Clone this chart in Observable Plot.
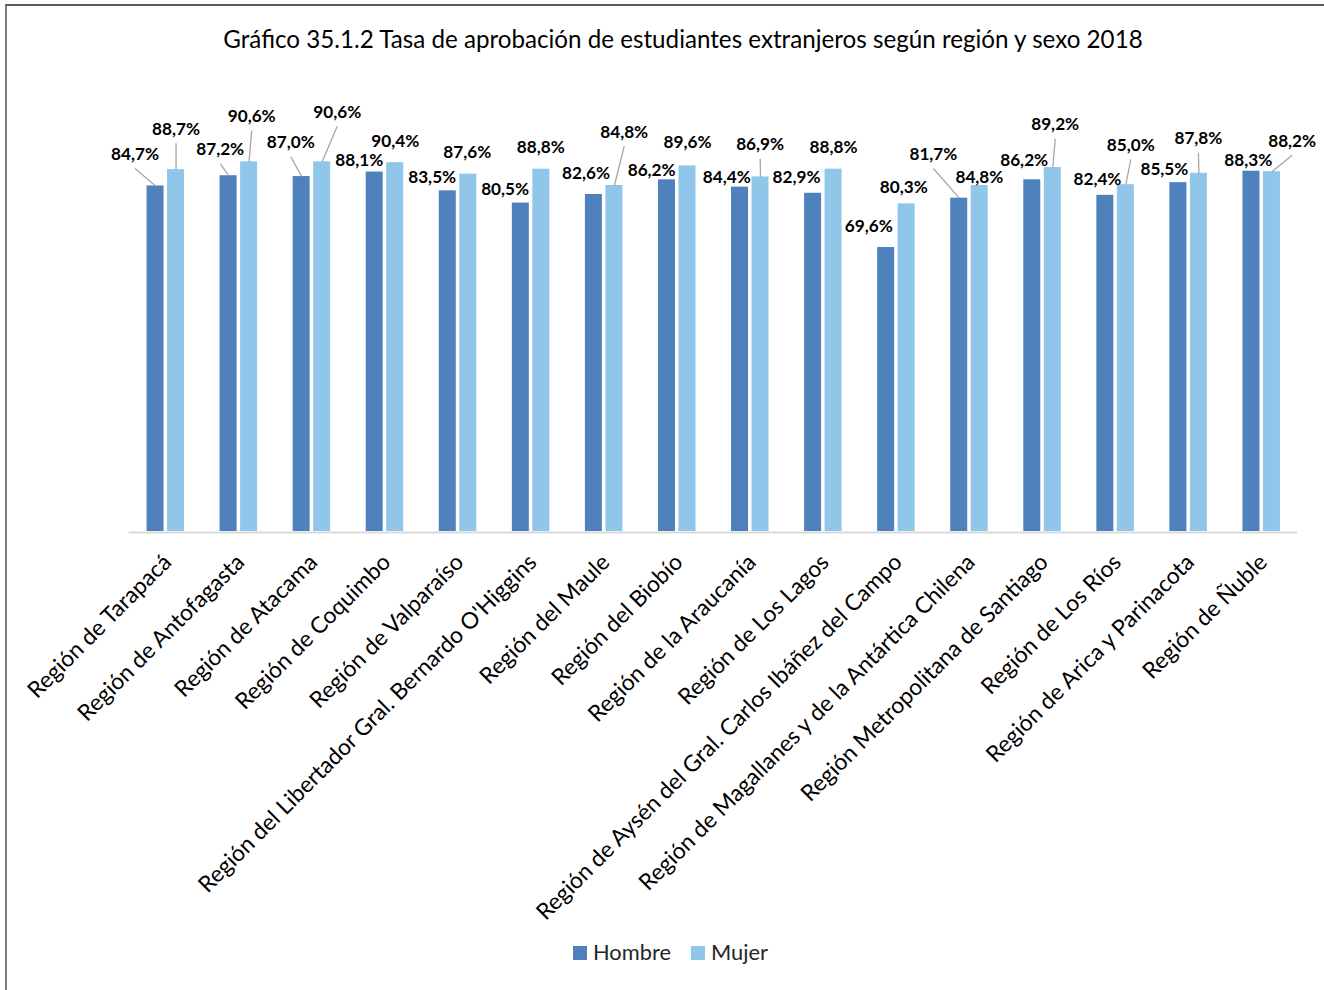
<!DOCTYPE html>
<html>
<head>
<meta charset="utf-8">
<script src="https://cdn.jsdelivr.net/npm/d3@7"></script>
<script src="https://cdn.jsdelivr.net/npm/@observablehq/plot@0.6"></script>
<style>
  html, body { margin: 0; padding: 0; background: #fff; }
  #root { position: relative; width: 1324px; height: 990px; overflow: hidden; font-family: Lato, sans-serif; }
  #frame { position: absolute; left: 5px; top: 4px; width: 1400px; height: 1000px; border-top: 2px solid #5a5a5a; border-left: 2px solid #7a7a7a; }
  #title { position: absolute; left: 0; width: 1366px; text-align: center; line-height: 1; color: #000; white-space: nowrap; }
  #chart { position: absolute; left: 0; top: 0; }
  .leg { position: absolute; line-height: 1; color: #262626; white-space: nowrap; }
  .sw { position: absolute; width: 14px; height: 14px; }
</style>
</head>
<body>
<div id="root">
  <div id="frame"></div>
  <div id="title"></div>
  <div id="chart"></div>
  <div id="legend"></div>
</div>
<script>
// ---- data ----
const titleText = "Gráfico 35.1.2 Tasa de aprobación de estudiantes extranjeros según región y sexo 2018";
const regions = [
  "Región de Tarapacá",
  "Región de Antofagasta",
  "Región de Atacama",
  "Región de Coquimbo",
  "Región de Valparaíso",
  "Región del Libertador Gral. Bernardo O'Higgins",
  "Región del Maule",
  "Región del Biobío",
  "Región de la Araucanía",
  "Región de Los Lagos",
  "Región de Aysén del Gral. Carlos Ibáñez del Campo",
  "Región de Magallanes y de la Antártica Chilena",
  "Región Metropolitana de Santiago",
  "Región de Los Ríos",
  "Región de Arica y Parinacota",
  "Región de Ñuble"
];
const series = ["Hombre", "Mujer"];
const hombre = [84.7, 87.2, 87.0, 88.1, 83.5, 80.5, 82.6, 86.2, 84.4, 82.9, 69.6, 81.7, 86.2, 82.4, 85.5, 88.3];
const mujer  = [88.7, 90.6, 90.6, 90.4, 87.6, 88.8, 84.8, 89.6, 86.9, 88.8, 80.3, 84.8, 89.2, 85.0, 87.8, 88.2];

// ---- layout (pixel offsets of data labels from bar tops, leader-line flags) ----
const labelShiftH = [[-20.5,-31.4],[-8.4,-26.2],[-10.8,-33.7],[-15.4,-11.6],[-15.6,-13.6],[-15.7,-13.3],[-7.9,-21.3],[-15.3,-9.3],
                     [-13.3,-9.3],[-16.6,-15.5],[-17.4,-21],[-25.8,-43.7],[-8.1,-19.3],[-7.9,-15.5],[-14,-12.9],[-3.2,-10.7]];
const leaderH = [1,1,1,0,0,0,0,0,0,0,0,1,0,0,0,0];
const labelShiftM = [[0,-40.3],[2.6,-45.4],[15.1,-49.7],[0,-21.5],[-1,-21.9],[-0.6,-21.4],[9.8,-53.3],[0,-23.7],
                     [-0.4,-32.1],[0,-21.4],[-2.9,-16.7],[-0.3,-8.3],[2.4,-42.8],[4.9,-39.2],[-0.5,-34.5],[20.2,-30.4]];
const leaderM = [1,1,1,0,0,0,1,0,1,0,0,0,1,1,1,1];
const colors = ["#4f81bd", "#8fc6ea"];

const W = 1324, H = 900;
const plotLeft = 128.5, plotRight = 1297.5, plotTop = 123, plotBottom = 531;
const kx = (plotRight - plotLeft) / regions.length;
const ky = (plotBottom - plotTop) / 100;

// font fitting
const ctx = document.createElement("canvas").getContext("2d");
function fit(text, weight, target) {
  ctx.font = `${weight} 100px Lato`;
  return 100 * target / ctx.measureText(text).width;
}
const titleFs = fit(titleText, "normal", 922);
const labelFs = fit("84,7%", "bold", 48);
const axisFs = fit("Región de Ñuble", "normal", 165);
const legFs = fit("Hombre", "normal", 78);

// table
const rows = regions.flatMap((r, i) => series.map((s, j) => ({
  i, region: r, sexo: s,
  value: j ? mujer[i] : hombre[i],
  shift: j ? labelShiftM[i] : labelShiftH[i],
  leader: j ? leaderM[i] : leaderH[i]
})));
const barCenter = d => d.i + (d.sexo === "Hombre" ? -10 : 10.5) / kx;
const half = 8.5 / kx;
const fmt = v => v.toFixed(1).replace(".", ",") + "%";

const chart = Plot.plot({
  width: W, height: H,
  marginTop: plotTop, marginBottom: H - plotBottom,
  marginLeft: plotLeft, marginRight: W - plotRight,
  x: {type: "linear", domain: [-0.5, regions.length - 0.5], axis: null},
  y: {domain: [0, 100], axis: null},
  color: {domain: series, range: colors},
  style: {fontFamily: "Lato, sans-serif", background: "transparent", overflow: "visible"},
  marks: [
    Plot.rectY(rows, {x1: d => barCenter(d) - half, x2: d => barCenter(d) + half, y1: 0, y2: "value", fill: "sexo"}),
    Plot.ruleY([0], {stroke: "#d9d9d9", strokeWidth: 2, dy: 1}),
    Plot.link(rows.filter(d => d.leader), {
      x1: barCenter, y1: "value",
      x2: d => barCenter(d) + d.shift[0] / kx,
      y2: d => d.value - (d.shift[1] + 14) / ky,
      stroke: "#a6a6a6", strokeWidth: 1.3
    }),
    Plot.text(rows, {
      x: d => barCenter(d) + d.shift[0] / kx,
      y: d => d.value - d.shift[1] / ky,
      text: d => fmt(d.value),
      fontWeight: "bold", fontSize: labelFs, fill: "#000"
    }),
    Plot.text(regions, {
      x: (d, i) => i, y: () => 0, text: d => d,
      rotate: -45, textAnchor: "end", dx: 2, dy: 27,
      fontSize: axisFs, fill: "#000"
    })
  ]
});
document.getElementById("chart").appendChild(chart);

// title
const t = document.getElementById("title");
t.textContent = titleText;
t.style.fontSize = titleFs + "px";
t.style.top = (48 - 0.887 * titleFs) + "px";

// legend
const leg = document.getElementById("legend");
const legItems = [{x: 573, tx: 593}, {x: 691, tx: 711}];
series.forEach((s, j) => {
  const sw = document.createElement("div");
  sw.className = "sw";
  sw.style.left = legItems[j].x + "px";
  sw.style.top = "946px";
  sw.style.background = colors[j];
  leg.appendChild(sw);
  const tx = document.createElement("div");
  tx.className = "leg";
  tx.textContent = s;
  tx.style.left = legItems[j].tx + "px";
  tx.style.fontSize = legFs + "px";
  tx.style.top = (953 + 0.36 * legFs - 0.887 * legFs) + "px";
  leg.appendChild(tx);
});
</script>
</body>
</html>
